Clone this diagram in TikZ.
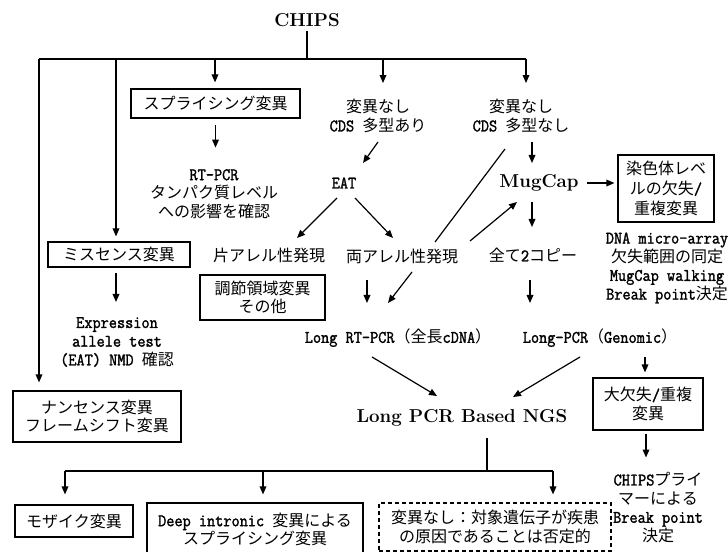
\documentclass[tikz,border=0pt]{standalone}
\usepackage{fontspec}
\newfontfamily\jp{Noto Sans CJK JP}
\setmonofont{lmmono12-regular.otf}[FakeBold=1.6, FakeStretch=0.9, Scale=1.1]
\usetikzlibrary{arrows.meta,calc}
\newcommand\mo[1]{{\ttfamily #1}}
\begin{document}
\begin{tikzpicture}[x=0.75pt,y=-0.75pt,
  base/.style={font=\jp\fontsize{12}{14}\selectfont, inner sep=0pt, align=center},
  title/.style={font=\rmfamily\bfseries\fontsize{14}{16}\selectfont, inner sep=0pt},
  box/.style={base, draw, line width=0.9pt},
  dbox/.style={box, dash pattern=on 3pt off 2.2pt},
  ln/.style={line width=0.9pt},
  arr/.style={ln, -{Triangle[length=6pt,width=5pt]}}]
\fill[white] (0,0) rectangle (728,552);
\useasboundingbox (0,0) rectangle (728,552);

% nodes
\node[title] (chips) at (307,20) {CHIPS};
\node[box, minimum width=126.75pt, minimum height=21.75pt] (splice) at (215.5,103.5) {スプライシング変異};
\node[base] (v1) at (378,116) {変異なし\\\mo{CDS }多型あり};
\node[base] (v2) at (521,116) {変異なし\\\mo{CDS }多型なし};
\node[base] (rt) at (214,194) {\mo{RT-PCR}\\タンパク質レベル\\への影響を確認};
\node[base] (eat) at (344,183) {\mo{EAT}};
\node[title] (mug) at (539,183) {MugCap};
\node[box, minimum width=72pt, minimum height=50.25pt, font=\jp\fontsize{12}{15}\selectfont] (chrom) at (666,188.5) {染色体レベ\\ルの欠失\mo{/}\\重複変異};
\node[box, minimum width=106.5pt, minimum height=18.75pt] (miss) at (119,254.5) {ミスセンス変異};
\node[base] (single) at (269,255) {片アレル性発現};
\node[base] (bi) at (402,256) {両アレル性発現};
\node[base] (all2) at (533,255) {全て\mo{2}コピー};
\node[base] (info) at (667,268) {\mo{DNA micro-array}\\欠失範囲の同定\\\mo{MugCap walking}\\\mo{Break point}決定};
\node[box, minimum width=93.75pt, minimum height=33.75pt] (reg) at (262.5,297.5) {調節領域変異\\その他};
\node[base] (expr) at (117,342) {\mo{Expression}\\\mo{allele test}\\\mo{(EAT) NMD }確認};
\node[base] (longrt) at (398,338) {\mo{Long RT-PCR}（全長\mo{cDNA}）};
\node[base] (longg) at (600,338) {\mo{Long-PCR}（\mo{Genomic}）};
\node[box, minimum width=126pt, minimum height=38.25pt] (nons) at (97,416.5) {ナンセンス変異\\フレームシフト変異};
\node[box, minimum width=82.5pt, minimum height=39pt] (large) at (648,404) {大欠失\mo{/}重複\\変異};
\node[title] (ngs) at (462,418) {Long PCR Based NGS};
\node[base] (primer) at (658,507.5) {\mo{CHIPS}プライ\\マーによる\\\mo{Break point}\\決定};
\node[box, minimum width=88.5pt, minimum height=24pt] (mosaic) at (74,521) {モザイク変異};
\node[box, minimum width=162pt, minimum height=39.75pt] (deep) at (255,529.5) {\mo{Deep intronic }変異による\\スプライシング変異};
\node[dbox, minimum width=174pt, minimum height=36pt] (nochange) at (495,527) {変異なし：対象遺伝子が疾患\\の原因であることは否定的};

% junction coordinates
\coordinate (jtop) at (307,59);
\coordinate (hl) at (39,59);
\coordinate (hr) at (526,59);
\coordinate (d2) at (116,59);
\coordinate (d3) at (215,59);
\coordinate (d4) at (383,59);
\coordinate (bj) at (487,471);
\coordinate (bl) at (65,471);
\coordinate (bm) at (263,471);
\coordinate (br) at (553,471);

% top tree
\draw[ln, shorten <=3pt] (chips.south) -- (jtop);
\draw[ln] (hl) -- (hr);
\draw[arr, shorten >=6pt] (hl) -- (hl |- nons.north);
\draw[arr, shorten >=3.75pt] (d2) -- (d2 |- miss.north);
\draw[arr, shorten >=4.5pt] (d3) -- (d3 |- splice.north);
\draw[arr, shorten >=12pt] (d4) -- (d4 |- v1.north);
\draw[arr, shorten >=12pt] (hr) -- (hr |- v2.north);
\draw[arr, shorten <=5pt, shorten >=16pt] (splice.south) -- (splice.south |- rt.north);

% middle
\draw[arr] ($(v1)+(0,26)$) -- ($(eat)+(19,-20)$);
\draw[arr] ($(eat)+(-7,15)$) -- ($(single)+(28,-17)$);
\draw[arr] ($(eat)+(11,15)$) -- ($(bi)+(-9,-18)$);
\draw[ln] ($(v2)+(-16,33)$) -- ($(bi)+(33,-14)$);
\draw[arr] ($(bi)+(10,16)$) -- ($(longrt)+(-10,-35)$);
\draw[arr] ($(bi)+(68,-15)$) -- ($(mug)+(-22,19)$);
\draw[arr] ($(v2)+(11,26)$) -- ($(mug)+(-7,-20)$);
\draw[arr] ($(mug)+(48,0)$) -- ($(chrom.west)+(-3,-5.5)$);
\draw[arr] ($(mug)+(-7,19)$) -- ($(all2)+(-1,-28)$);
\draw[arr] ($(miss.south)+(-3,5)$) -- ($(expr)+(-1,-40)$);
\draw[arr] ($(bi)+(-35,24)$) -- ($(longrt)+(-31,-35)$);
\draw[arr] ($(all2)+(-3,25)$) -- ($(longg)+(-70,-35)$);
\draw[arr] ($(longrt)+(-26,19)$) -- ($(ngs)+(-25,-22)$);
\draw[arr] ($(longg)+(-20,19)$) -- ($(ngs)+(51,-21)$);
\draw[arr] ($(longg)+(45,19)$) -- ($(large.north)+(-3,-5)$);
\draw[arr] ($(large.south)+(-2,3)$) -- ($(primer)+(-12,-50)$);

% bottom tree
\draw[ln] ($(ngs)+(25,20)$) -- (bj);
\draw[ln] (bl) -- (br);
\draw[arr, shorten >=7.5pt] (bl) -- (bl |- mosaic.north);
\draw[arr, shorten >=6pt] (bm) -- (bm |- deep.north);
\draw[arr, shorten >=6pt] (br) -- (br |- nochange.north);
\end{tikzpicture}
\end{document}
